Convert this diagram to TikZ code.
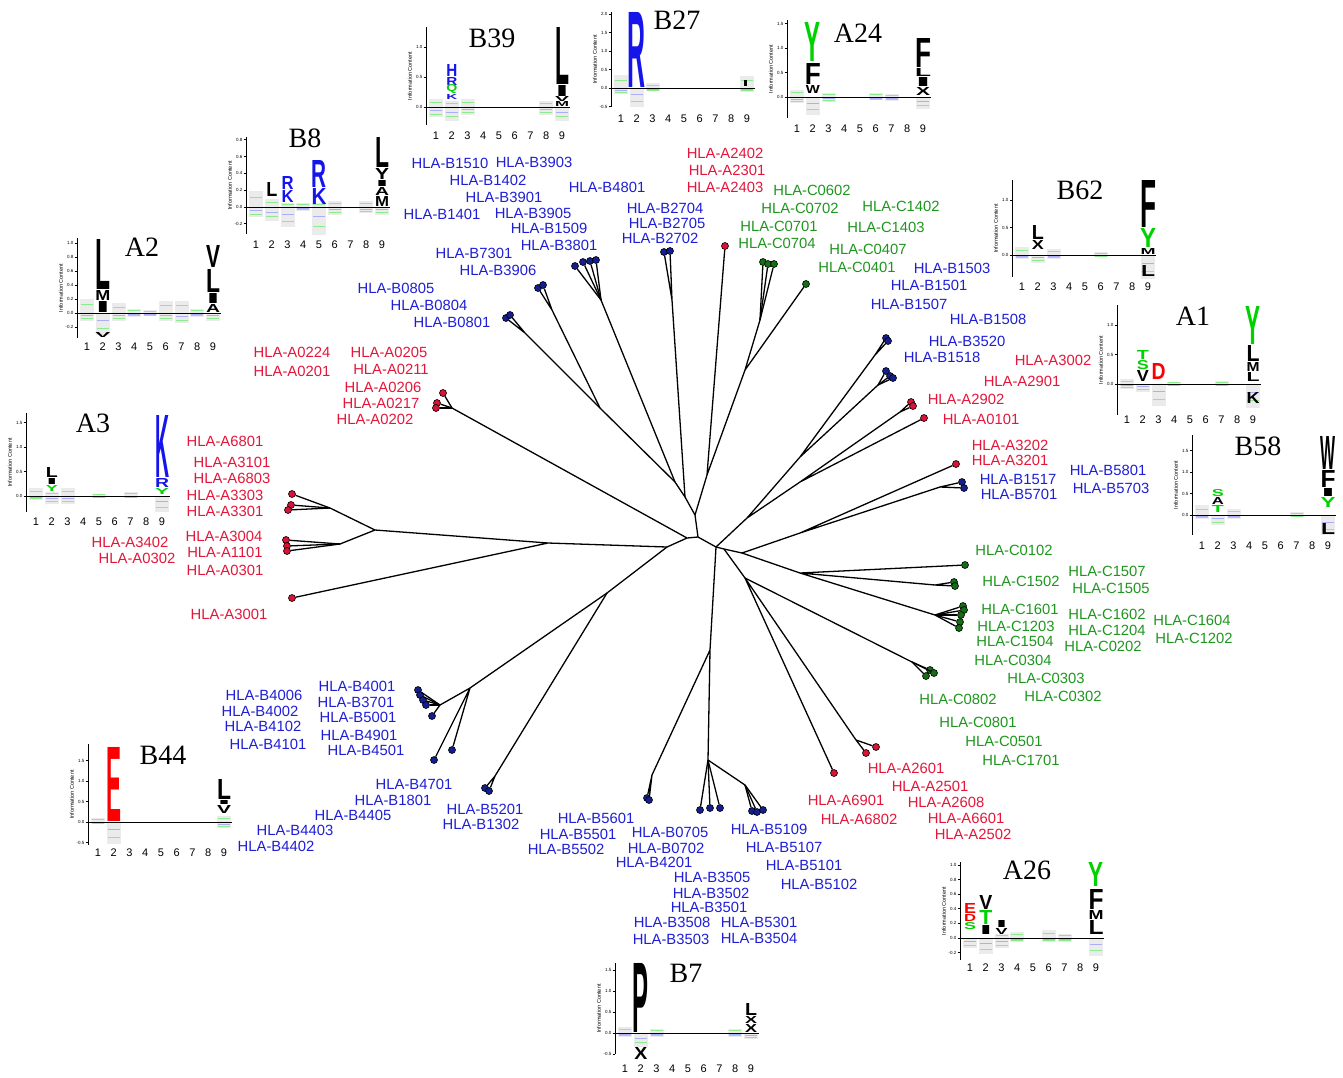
\documentclass[tikz,border=0pt]{standalone}
\usepackage{fontspec}
\setmainfont{Liberation Sans}
\newfontfamily\titlefont{Liberation Serif}
\newfontfamily\logofont{Liberation Sans Bold}
\usetikzlibrary{positioning}

\definecolor{labred}{RGB}{228,22,58}
\definecolor{labblue}{RGB}{30,30,215}
\definecolor{labgreen}{RGB}{30,150,30}
\definecolor{dotred}{RGB}{215,20,55}
\definecolor{dotblue}{RGB}{20,30,140}
\definecolor{dotgreen}{RGB}{20,110,20}
\definecolor{lgblue}{RGB}{20,20,235}
\definecolor{lggreen}{RGB}{0,210,0}
\definecolor{lgred}{RGB}{250,0,0}

\tikzset{
  branch/.style={line width=1.3pt, black},
  leafdot/.style={circle, draw=black, line width=0.6pt, inner sep=0pt, minimum size=7pt},
  rdot/.style={leafdot, fill=dotred},
  bdot/.style={leafdot, fill=dotblue},
  gdot/.style={leafdot, fill=dotgreen},
  hla/.style={font=\fontsize{14.8}{16}\selectfont, inner sep=0pt},
  rlab/.style={hla, text=labred},
  blab/.style={hla, text=labblue},
  glab/.style={hla, text=labgreen},
  logoax/.style={line width=0.9pt, black},
  ticklab/.style={font=\fontsize{4.5}{5}\selectfont, anchor=east, inner sep=1pt},
  numlab/.style={font=\fontsize{11}{12}\selectfont, inner sep=0pt},
  ylab/.style={font=\fontsize{5.5}{6}\selectfont, rotate=90, inner sep=0pt},
  logotitle/.style={font=\titlefont\fontsize{28}{30}\selectfont, inner sep=0pt},
  smearc/.style={fill=black!8},
  smearl/.style={line width=0.8pt}
}

% axes of one logo, drawn in a scope whose origin is the foot of the y axis
% #1 top, #2 bottom, #3 px per bit, #4 ticks, #5 y of the position numbers
\newcommand{\logoaxes}[5]{%
  \draw[logoax] (0,#1) -- (0,#2);
  \draw[logoax] (0,0) -- (144,0);
  \foreach \v/\t in {#4} {
    \draw[logoax] (-2.5,-\v*#3) -- (0,-\v*#3);
    \node[ticklab] at (-2.5,-\v*#3) {\t};
  }
  \foreach \i in {1,...,9}
    \node[numlab] at (10+15.75*\i-15.75,#5) {\i};
  \node[ylab] at (-16,{(#1+#2)/2}) {Information Content};
}
% one letter: #1 position, #2 bottom, #3 height, #4 width, #5 colour, #6 letter
\newcommand{\logoletter}[6]{%
  \node[inner sep=0pt, anchor=south, text=#5] at (10+15.75*#1-15.75,#2-0.5)
    {\resizebox{#4pt}{\dimexpr #3pt - 1pt\relax}{\logofont #6}};
}
% faint stack of small letters at one position: #1 position, #2 up, #3 down
\newcommand{\smear}[3]{%
  \fill[smearc] (3+15.75*#1-15.75,-#2) rectangle (17+15.75*#1-15.75,#3);
  \draw[smearl, lggreen!45] (4+15.75*#1-15.75,-#2*0.6) -- (16+15.75*#1-15.75,-#2*0.6);
  \draw[smearl, lgblue!35] (4+15.75*#1-15.75,#3*0.35) -- (16+15.75*#1-15.75,#3*0.35);
  \draw[smearl, lggreen!45] (4+15.75*#1-15.75,#3*0.7) -- (16+15.75*#1-15.75,#3*0.7);
}

\begin{document}
\begin{tikzpicture}[x=1pt,y=-1pt]
\useasboundingbox (0,0) rectangle (1343,1077);

% ---------------- tree: inner points
\coordinate (c0) at (698,537);
\coordinate (u1) at (695,515);
\coordinate (ua) at (685,497);
\coordinate (ub) at (675,482);
\coordinate (uc) at (707,475);
\coordinate (k27) at (672,300);
\coordinate (k39) at (601,300);
\coordinate (kb) at (600,408);
\coordinate (k73) at (552,310);
\coordinate (k08) at (525,333);
\coordinate (kd) at (745,370);
\coordinate (kc) at (760,320);
\coordinate (r1) at (716,547);
\coordinate (rn) at (747,518);
\coordinate (rp) at (800,457);
\coordinate (k15a) at (875,355);
\coordinate (k15b) at (878,385);
\coordinate (rq) at (800,482);
\coordinate (k29) at (900,412);
\coordinate (r2) at (724,549);
\coordinate (r3) at (742,553);
\coordinate (r4) at (800,533);
\coordinate (k58) at (940,487);
\coordinate (r5) at (800,573);
\coordinate (kc15) at (935,585);
\coordinate (kc16) at (935,615);
\coordinate (r6) at (745,578);
\coordinate (kc08) at (912,662);
\coordinate (k26) at (856,740);
\coordinate (r7) at (710,650);
\coordinate (k35) at (708,760);
\coordinate (k51) at (745,785);
\coordinate (k56) at (652,775);
\coordinate (l0) at (687,538);
\coordinate (k02) at (452,408);
\coordinate (l1) at (667,547);
\coordinate (la) at (548,543);
\coordinate (lb) at (375,530);
\coordinate (k33) at (330,508);
\coordinate (k30) at (340,544);
\coordinate (lc) at (607,593);
\coordinate (ld) at (470,688);
\coordinate (k40) at (440,705);
\coordinate (k52) at (495,776);

% ---------------- tree: leaves
\foreach \n/\x/\y in {t1/664/252, t2/670/251, s1/575/266, s2/583/262, s3/590/261,
    s4/596/260, s5/538/288, s6/543/285, s7/506/318, s8/510/315, p1/886/338,
    p2/888/341, p3/886/371, p4/890/376, p5/893/378, q1/962/482, q2/964/488,
    v1/700/810, v2/710/808, v3/720/808, v4/752/811, v5/757/812, v6/763/810,
    v7/647/798, v8/649/800, w1/418/690, w2/420/695, w3/423/700, w4/426/705,
    w5/432/716, w6/452/750, w7/434/760, w8/485/788, w9/489/791}
  \node[bdot] (\n) at (\x,\y) {};
\foreach \n/\x/\y in {e1/725/246, e2/911/402, e3/913/406, e4/924/418, e5/956/464,
    e6/876/747, e7/866/753, e8/834/773, e9/443/393, e10/437/403, e11/436/408,
    e12/292/494, e13/291/505, e14/288/510, e15/286/540, e16/287/546, e17/287/551,
    e18/292/598}
  \node[rdot] (\n) at (\x,\y) {};
\foreach \n/\x/\y in {g1/763/262, g2/768/264, g3/774/264, g4/806/284, g5/965/565,
    g6/954/582, g7/955/586, g8/963/606, g9/964/610, g10/961/615, g11/960/622,
    g12/959/628, g13/930/670, g14/934/673, g15/926/676}
  \node[gdot] (\n) at (\x,\y) {};

% ---------------- tree: branches
\draw[branch] (c0) -- (u1) (u1) -- (ua) (ua) -- (ub) (u1) -- (uc);
\draw[branch] (ua) -- (k27) (k27) -- (t1) (k27) -- (t2);
\draw[branch] (ub) -- (k39);
\foreach \n in {s1,s2,s3,s4} \draw[branch] (k39) -- (\n);
\draw[branch] (ub) -- (kb) (kb) -- (k73) (k73) -- (s5) (k73) -- (s6);
\draw[branch] (kb) -- (k08) (k08) -- (s7) (k08) -- (s8);
\draw[branch] (uc) -- (e1) (uc) -- (kd) (kd) -- (g4) (kd) -- (kc);
\foreach \n in {g1,g2,g3} \draw[branch] (kc) -- (\n);
\draw[branch] (c0) -- (r1) (r1) -- (rn) (rn) -- (rp) (rn) -- (rq);
\draw[branch] (rp) -- (k15a) (k15a) -- (p1) (k15a) -- (p2) (rp) -- (k15b);
\foreach \n in {p3,p4,p5} \draw[branch] (k15b) -- (\n);
\draw[branch] (rq) -- (k29) (k29) -- (e2) (k29) -- (e3) (rq) -- (e4);
\draw[branch] (r1) -- (r2) (r2) -- (r3) (r3) -- (r4) (r4) -- (e5) (r4) -- (k58);
\draw[branch] (k58) -- (q1) (k58) -- (q2);
\draw[branch] (r3) -- (r5) (r5) -- (g5) (r5) -- (kc15) (r5) -- (kc16);
\draw[branch] (kc15) -- (g6) (kc15) -- (g7);
\foreach \n in {g8,g9,g10,g11,g12} \draw[branch] (kc16) -- (\n);
\draw[branch] (r2) -- (r6) (r6) -- (kc08);
\foreach \n in {g13,g14,g15} \draw[branch] (kc08) -- (\n);
\draw[branch] (r6) -- (k26) (k26) -- (e6) (k26) -- (e7) (r6) -- (e8);
\draw[branch] (r1) -- (r7) (r7) -- (k35) (r7) -- (k56);
\foreach \n in {v1,v2,v3} \draw[branch] (k35) -- (\n);
\draw[branch] (k35) -- (k51);
\foreach \n in {v4,v5,v6} \draw[branch] (k51) -- (\n);
\draw[branch] (k56) -- (v7) (k56) -- (v8);
\draw[branch] (c0) -- (l0) (l0) -- (k02);
\foreach \n in {e9,e10,e11} \draw[branch] (k02) -- (\n);
\draw[branch] (l0) -- (l1) (l1) -- (la) (la) -- (lb) (la) -- (e18);
\draw[branch] (lb) -- (k33) (lb) -- (k30);
\foreach \n in {e12,e13,e14} \draw[branch] (k33) -- (\n);
\foreach \n in {e15,e16,e17} \draw[branch] (k30) -- (\n);
\draw[branch] (l1) -- (lc) (lc) -- (ld) (ld) -- (k40) (ld) -- (w6) (ld) -- (w7);
\foreach \n in {w1,w2,w3,w4,w5} \draw[branch] (k40) -- (\n);
\draw[branch] (lc) -- (k52) (k52) -- (w8) (k52) -- (w9);

% ---------------- labels
\foreach \n/\x/\y in {B1510/450/163, B3903/534/162, B1402/488/180, B3901/504/197,
    B4801/607/187, B1401/442/214, B3905/533/213, B1509/549/228, B3801/559/245,
    B7301/474/253, B3906/498/270, B0805/396/288, B0804/429/305, B0801/452/322,
    B2704/665/208, B2705/667/223, B2702/660/238, B1503/952/268, B1501/929/285,
    B1507/909/304, B1508/988/319, B3520/967/341, B1518/942/357, B5801/1108/470,
    B5703/1111/488, B1517/1018/479, B5701/1019/494, B5109/769/829, B5107/784/847,
    B5101/804/865, B5102/819/884, B5601/596/818, B5501/578/834, B5502/566/849,
    B0705/670/832, B0702/666/848, B4201/654/862, B3505/712/877, B3502/711/893,
    B3501/709/907, B3508/672/922, B5301/759/922, B3503/671/939, B3504/759/938,
    B5201/485/809, B1302/481/824, B4701/414/784, B1801/393/800, B4405/353/815,
    B4403/295/830, B4402/276/846, B4006/264/695, B4002/260/711, B4102/263/726,
    B4101/268/744, B4001/357/686, B3701/356/702, B5001/358/717, B4901/359/735,
    B4501/366/750}
  \node[blab] (L\n) at (\x,\y) {HLA-\n};
\foreach \n/\x/\y in {A2402/725/153, A2301/727/170, A2403/725/187, A3002/1053/360,
    A2901/1022/381, A2902/966/399, A0101/981/419, A3202/1010/445, A3201/1010/460,
    A2601/906/768, A2501/930/786, A2608/946/802, A6601/966/818, A2502/973/834,
    A6901/846/800, A6802/859/819, A0224/292/352, A0201/292/371, A0205/389/352,
    A0211/391/369, A0206/383/387, A0217/381/403, A0202/375/419, A6801/225/441,
    A3101/232/462, A6803/232/478, A3303/225/495, A3301/225/511, A3004/224/536,
    A3402/130/542, A1101/225/552, A0302/137/558, A0301/225/570, A3001/229/614}
  \node[rlab] (L\n) at (\x,\y) {HLA-\n};
\foreach \n/\x/\y in {C0602/812/190, C0702/800/208, C0701/779/226, C0704/777/243,
    C1402/901/206, C1403/886/227, C0407/868/249, C0401/857/267, C0102/1014/550,
    C1507/1107/571, C1505/1111/588, C1502/1021/581, C1601/1020/609, C1602/1107/614,
    C1604/1192/620, C1203/1016/626, C1204/1107/630, C1202/1194/638, C1504/1015/641,
    C0202/1103/646, C0304/1013/660, C0303/1046/678, C0302/1063/696, C0802/958/699,
    C0801/978/722, C0501/1004/741, C1701/1021/760}
  \node[glab] (L\n) at (\x,\y) {HLA-\n};

% ---------------- logos
% B39
\begin{scope}[shift={(426,107)}]
  \smear{1}{8}{10} \smear{2}{6}{14} \smear{3}{8}{8} \smear{8}{6}{8} \smear{9}{0}{14}
  \logoaxes{-80}{18}{60}{1/1.0, 0.5/0.5, 0/0.0}{29}
  \logoletter{2}{-30}{13}{11}{lgblue}{H}
  \logoletter{2}{-21}{9}{11}{lgblue}{R}
  \logoletter{2}{-13}{8}{11}{lggreen}{Q}
  \logoletter{2}{-7}{6}{11}{lgblue}{K}
  \logoletter{9}{-22}{58}{14}{black}{L}
  \logoletter{9}{-10}{12}{14}{black}{I}
  \logoletter{9}{-5}{6}{14}{black}{V}
  \logoletter{9}{0}{6}{14}{black}{M}
  \node[logotitle] (tB39) at (66,-69) {B39};
\end{scope}
% B27
\begin{scope}[shift={(611,88)}]
  \smear{1}{13}{6} \smear{2}{0}{19} \smear{3}{5}{3} \smear{9}{12}{4}
  \logoaxes{-76}{19}{37}{2/2.0, 1.5/1.5, 1/1.0, 0.5/0.5, 0/0.0, -0.5/-0.5}{31}
  \logoletter{2}{0}{76}{18}{lgblue}{R}
  \fill[black] (133,-8) rectangle (136,-2);
  \node[logotitle] (tB27) at (66,-68) {B27};
\end{scope}
% A24
\begin{scope}[shift={(787,97)}]
  \smear{1}{7}{6} \smear{2}{0}{18} \smear{3}{4}{5} \smear{6}{4}{3} \smear{7}{3}{4} \smear{9}{0}{12}
  \logoaxes{-77}{21}{49}{1.5/1.5, 1/1.0, 0.5/0.5, 0/0.0}{32}
  \logoletter{2}{-35}{40}{16}{lggreen}{Y}
  \logoletter{2}{-12}{22}{16}{black}{F}
  \logoletter{2}{-3}{9}{14}{black}{W}
  \logoletter{9}{-29}{30}{16}{black}{F}
  \logoletter{9}{-20}{9}{16}{black}{L}
  \logoletter{9}{-10}{10}{16}{black}{I}
  \logoletter{9}{-1}{9}{14}{black}{X}
  \node[logotitle] (tA24) at (71,-64) {A24};
\end{scope}
% B8
\begin{scope}[shift={(246,207)}]
  \smear{1}{16}{10} \smear{2}{8}{14} \smear{3}{4}{20} \smear{4}{4}{4} \smear{5}{4}{28}
  \smear{6}{6}{8} \smear{8}{6}{6} \smear{9}{0}{8}
  \logoaxes{-70}{27}{84}{0.8/0.8, 0.6/0.6, 0.4/0.4, 0.2/0.2, 0/0.0, -0.2/-0.2}{38}
  \logoletter{2}{-10}{15}{11}{black}{L}
  \logoletter{3}{-17}{14}{12}{lgblue}{R}
  \logoletter{3}{-4}{13}{12}{lgblue}{K}
  \logoletter{5}{-19}{28}{15}{lgblue}{R}
  \logoletter{5}{-2}{17}{15}{lgblue}{K}
  \logoletter{9}{-39}{31}{14}{black}{L}
  \logoletter{9}{-27}{12}{14}{black}{Y}
  \logoletter{9}{-20}{7}{14}{black}{I}
  \logoletter{9}{-11}{9}{14}{black}{A}
  \logoletter{9}{0}{11}{14}{black}{M}
  \node[logotitle] (tB8) at (59,-69) {B8};
\end{scope}
% A2
\begin{scope}[shift={(77,313)}]
  \smear{1}{14}{8} \smear{2}{0}{22} \smear{3}{10}{8} \smear{4}{4}{4} \smear{5}{3}{3}
  \smear{6}{12}{8} \smear{7}{12}{10} \smear{8}{4}{4} \smear{9}{0}{8}
  \logoaxes{-75}{25}{70}{1/1.0, 0.8/0.8, 0.6/0.6, 0.4/0.4, 0.2/0.2, 0/0.0, -0.2/-0.2}{34}
  \logoletter{2}{-23}{51}{15}{black}{L}
  \logoletter{2}{-12}{11}{15}{black}{M}
  \logoletter{2}{0}{12}{15}{black}{I}
  \logoletter{2}{25}{6}{15}{black}{V}
  \logoletter{9}{-45}{23}{14}{black}{V}
  \logoletter{9}{-20}{24}{14}{black}{L}
  \logoletter{9}{-9}{11}{14}{black}{I}
  \logoletter{9}{0}{9}{14}{black}{A}
  \node[logotitle] (tA2) at (65,-66) {A2};
\end{scope}
% A3
\begin{scope}[shift={(26,496)}]
  \smear{1}{8}{4} \smear{2}{4}{8} \smear{3}{8}{8} \smear{5}{2}{2} \smear{7}{4}{2} \smear{9}{0}{16}
  \logoaxes{-83}{16}{49}{1.5/1.5, 1/1.0, 0.5/0.5, 0/0.0}{26}
  \logoletter{2}{-18}{11}{12}{black}{L}
  \logoletter{2}{-11}{7}{12}{black}{I}
  \logoletter{2}{-4}{7}{12}{lggreen}{Y}
  \logoletter{9}{-18}{63}{14}{lgblue}{K}
  \logoletter{9}{-8}{10}{14}{lgblue}{R}
  \logoletter{9}{-1}{7}{14}{lggreen}{Y}
  \node[logotitle] (tA3) at (67,-73) {A3};
\end{scope}
% B44
\begin{scope}[shift={(88,822)}]
  \smear{1}{4}{2} \smear{2}{0}{22} \smear{9}{6}{6}
  \logoaxes{-78}{23}{41}{1.5/1.5, 1/1.0, 0.5/0.5, 0/0.0, -0.5/-0.5}{31}
  \logoletter{2}{0}{75}{15}{lgred}{E}
  \logoletter{9}{-22}{21}{14}{black}{L}
  \logoletter{9}{-17}{5}{14}{black}{I}
  \logoletter{9}{-8}{9}{14}{black}{V}
  \node[logotitle] (tB44) at (75,-67) {B44};
\end{scope}
% B7
\begin{scope}[shift={(615,1033)}]
  \smear{1}{6}{4} \smear{2}{0}{14} \smear{3}{4}{4} \smear{8}{4}{4} \smear{9}{0}{6}
  \logoaxes{-70}{21}{42}{1.5/1.5, 1/1.0, 0.5/0.5, 0/0.0, -0.5/-0.5}{36}
  \logoletter{2}{0}{70}{16}{black}{P}
  \logoletter{2}{27}{13}{13}{black}{X}
  \logoletter{9}{-17}{13}{12}{black}{L}
  \logoletter{9}{-9}{8}{12}{black}{X}
  \logoletter{9}{0}{9}{12}{black}{X}
  \node[logotitle] (tB7) at (71,-60) {B7};
\end{scope}
% A26
\begin{scope}[shift={(960,938)}]
  \smear{1}{0}{10} \smear{2}{0}{16} \smear{3}{4}{10} \smear{4}{6}{4} \smear{6}{8}{4} \smear{7}{4}{4} \smear{9}{0}{18}
  \logoaxes{-76}{22}{73}{1/1.0, 0.8/0.8, 0.6/0.6, 0.4/0.4, 0.2/0.2, 0/0.0, -0.2/-0.2}{30}
  \logoletter{1}{-24}{11}{12}{lgred}{E}
  \logoletter{1}{-16}{8}{12}{lgred}{D}
  \logoletter{1}{-8}{8}{12}{lggreen}{S}
  \logoletter{2}{-28}{15}{13}{black}{V}
  \logoletter{2}{-13}{15}{13}{lggreen}{T}
  \logoletter{2}{-3}{10}{13}{black}{I}
  \logoletter{3}{-10}{8}{12}{black}{I}
  \logoletter{3}{-3}{7}{12}{black}{V}
  \logoletter{9}{-51}{25}{15}{lggreen}{Y}
  \logoletter{9}{-28}{21}{15}{black}{F}
  \logoletter{9}{-18}{10}{15}{black}{M}
  \logoletter{9}{-3}{15}{15}{black}{L}
  \node[logotitle] (tA26) at (67,-68) {A26};
\end{scope}
% A1
\begin{scope}[shift={(1117,384)}]
  \smear{1}{5}{5} \smear{2}{0}{8} \smear{3}{0}{22} \smear{4}{2}{2} \smear{7}{3}{2} \smear{9}{0}{24}
  \logoaxes{-79}{31}{59}{1/1.0, 0.5/0.5, 0/0.0}{36}
  \logoletter{2}{-24}{10}{12}{lggreen}{T}
  \logoletter{2}{-14}{10}{12}{lggreen}{S}
  \logoletter{2}{-2}{12}{12}{black}{V}
  \logoletter{3}{-4}{17}{14}{lgred}{D}
  \logoletter{9}{-39}{39}{15}{lggreen}{Y}
  \logoletter{9}{-22}{17}{13}{black}{L}
  \logoletter{9}{-12}{10}{13}{black}{M}
  \logoletter{9}{-2}{10}{13}{black}{L}
  \logoletter{9}{20}{12}{13}{black}{K}
  \node[logotitle] (tA1) at (76,-68) {A1};
\end{scope}
% B58
\begin{scope}[shift={(1192,515)}]
  \smear{1}{10}{4} \smear{2}{0}{10} \smear{3}{6}{4} \smear{7}{3}{2} \smear{9}{0}{20}
  \logoaxes{-80}{20}{43}{1.5/1.5, 1/1.0, 0.5/0.5, 0/0.0}{31}
  \logoletter{2}{-18}{8}{12}{lggreen}{S}
  \logoletter{2}{-10}{8}{12}{black}{A}
  \logoletter{2}{-2}{8}{12}{lggreen}{T}
  \logoletter{9}{-45}{34}{15}{black}{W}
  \logoletter{9}{-27}{18}{15}{black}{F}
  \logoletter{9}{-18}{9}{15}{black}{I}
  \logoletter{9}{-7}{11}{15}{lggreen}{Y}
  \logoletter{9}{20}{12}{14}{black}{L}
  \node[logotitle] (tB58) at (66,-69) {B58};
\end{scope}
% B62
\begin{scope}[shift={(1012,255)}]
  \smear{1}{8}{4} \smear{2}{0}{8} \smear{3}{6}{4} \smear{6}{3}{2} \smear{9}{0}{24}
  \logoaxes{-75}{22}{55}{1/1.0, 0.5/0.5, 0/0.0}{32}
  \logoletter{2}{-15}{15}{12}{black}{L}
  \logoletter{2}{-5}{10}{12}{black}{X}
  \logoletter{9}{-27}{48}{16}{black}{F}
  \logoletter{9}{-7}{20}{16}{lggreen}{Y}
  \logoletter{9}{0}{7}{15}{black}{M}
  \logoletter{9}{22}{12}{14}{black}{L}
  \node[logotitle] (tB62) at (68,-65) {B62};
\end{scope}

\end{tikzpicture}
\end{document}
